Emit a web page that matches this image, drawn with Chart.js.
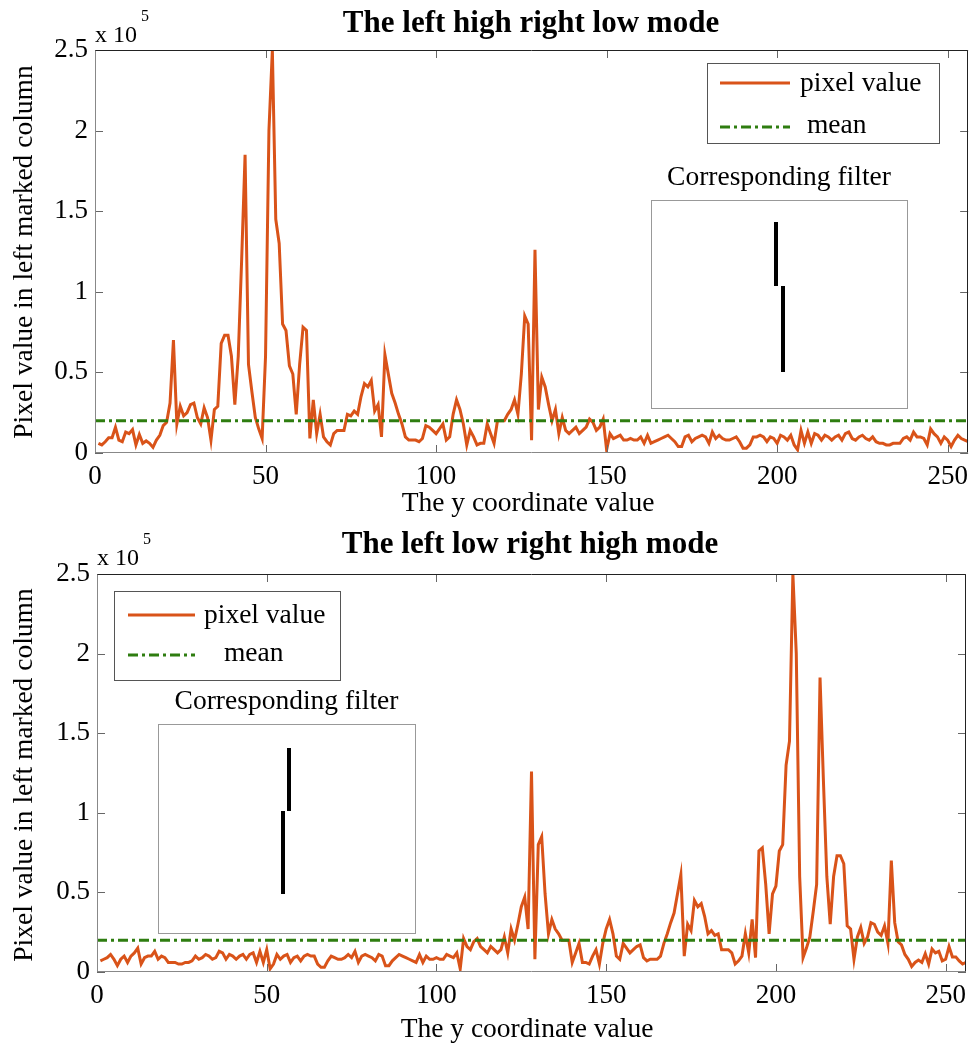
<!DOCTYPE html>
<html>
<head>
<meta charset="utf-8">
<script src="https://cdn.jsdelivr.net/npm/chart.js@4.4.1/dist/chart.umd.min.js"></script>
<style>
  html, body { margin: 0; padding: 0; background: #fff; }
  #wrap { position: relative; width: 976px; height: 1044px; }
  canvas { position: absolute; left: 0; display: block; }
</style>
</head>
<body>
<div id="wrap">
  <canvas id="high-low" width="976" height="520" style="top:0"></canvas>
  <canvas id="low-high" width="976" height="524" style="top:520px"></canvas>
</div>
<script>
// y coordinate of each sample in the marked column
const yCoords = Array.from({ length: 256 }, (_, i) => i + 1);

// pixel value in left marked column, in units of 10^5
const highLowValues = [
  0.06, 0.05, 0.07, 0.095, 0.095, 0.16, 0.08, 0.07, 0.13, 0.12, 0.145, 0.05, 0.115, 0.06, 0.075, 0.06,
  0.035, 0.08, 0.11, 0.17, 0.19, 0.31, 0.70, 0.18, 0.29, 0.23, 0.25, 0.30, 0.31, 0.22, 0.18, 0.28,
  0.22, 0.08, 0.27, 0.29, 0.68, 0.73, 0.73, 0.6, 0.3, 0.6, 1.2, 1.85, 0.55, 0.38, 0.22, 0.15,
  0.09, 0.6, 2.0, 2.5, 1.45, 1.3, 0.8, 0.76, 0.54, 0.49, 0.24, 0.55, 0.78, 0.76, 0.09, 0.33,
  0.12, 0.24, 0.1, 0.07, 0.05, 0.12, 0.14, 0.14, 0.14, 0.24, 0.23, 0.26, 0.24, 0.35, 0.43, 0.41,
  0.45, 0.26, 0.3, 0.1, 0.61, 0.49, 0.37, 0.31, 0.24, 0.18, 0.1, 0.08, 0.08, 0.08, 0.07, 0.09,
  0.17, 0.16, 0.14, 0.12, 0.15, 0.18, 0.08, 0.1, 0.24, 0.33, 0.27, 0.18, 0.05, 0.14, 0.1, 0.05,
  0.06, 0.06, 0.18, 0.12, 0.06, 0.2, 0.2, 0.2, 0.24, 0.27, 0.33, 0.24, 0.49, 0.85, 0.8, 0.08,
  1.26, 0.27, 0.47, 0.41, 0.3, 0.2, 0.27, 0.12, 0.22, 0.14, 0.12, 0.14, 0.16, 0.12, 0.14, 0.16,
  0.21, 0.19, 0.14, 0.16, 0.21, 0.02, 0.12, 0.09, 0.1, 0.11, 0.08, 0.08, 0.09, 0.08, 0.08, 0.1,
  0.06, 0.11, 0.06, 0.07, 0.08, 0.09, 0.1, 0.11, 0.09, 0.07, 0.04, 0.04, 0.1, 0.11, 0.07, 0.09,
  0.1, 0.11, 0.1, 0.06, 0.13, 0.09, 0.11, 0.09, 0.08, 0.08, 0.09, 0.1, 0.07, 0.03, 0.03, 0.05,
  0.1, 0.1, 0.11, 0.1, 0.07, 0.1, 0.09, 0.06, 0.11, 0.1, 0.08, 0.11, 0.05, 0.02, 0.14, 0.06,
  0.13, 0.06, 0.12, 0.11, 0.08, 0.11, 0.1, 0.08, 0.1, 0.11, 0.08, 0.12, 0.13, 0.09, 0.08, 0.1,
  0.11, 0.09, 0.08, 0.1, 0.07, 0.06, 0.06, 0.05, 0.05, 0.06, 0.06, 0.06, 0.09, 0.1, 0.08, 0.13,
  0.1, 0.1, 0.09, 0.05, 0.15, 0.12, 0.1, 0.06, 0.1, 0.08, 0.04, 0.08, 0.11, 0.09, 0.08, 0.07
];

const lowHighValues = [
  0.07, 0.08, 0.09, 0.11, 0.08, 0.04, 0.08, 0.1, 0.06, 0.1, 0.12, 0.15, 0.05, 0.09, 0.1, 0.1,
  0.13, 0.08, 0.1, 0.09, 0.06, 0.06, 0.06, 0.05, 0.05, 0.06, 0.06, 0.07, 0.1, 0.08, 0.09, 0.11,
  0.1, 0.08, 0.09, 0.13, 0.12, 0.08, 0.11, 0.1, 0.08, 0.1, 0.11, 0.08, 0.11, 0.12, 0.06, 0.13,
  0.06, 0.14, 0.02, 0.05, 0.11, 0.08, 0.1, 0.11, 0.06, 0.09, 0.1, 0.07, 0.1, 0.11, 0.1, 0.1,
  0.05, 0.03, 0.03, 0.07, 0.1, 0.09, 0.08, 0.08, 0.09, 0.11, 0.09, 0.13, 0.06, 0.1, 0.11, 0.1,
  0.09, 0.07, 0.11, 0.1, 0.04, 0.04, 0.07, 0.09, 0.11, 0.1, 0.09, 0.08, 0.07, 0.06, 0.11, 0.06,
  0.1, 0.08, 0.08, 0.09, 0.08, 0.08, 0.11, 0.1, 0.09, 0.12, 0.02, 0.21, 0.16, 0.14, 0.19, 0.21,
  0.16, 0.14, 0.12, 0.16, 0.14, 0.12, 0.14, 0.22, 0.12, 0.27, 0.2, 0.3, 0.41, 0.47, 0.27, 1.26,
  0.08, 0.8, 0.85, 0.49, 0.24, 0.33, 0.27, 0.24, 0.2, 0.2, 0.2, 0.06, 0.12, 0.18, 0.06, 0.06,
  0.05, 0.1, 0.14, 0.05, 0.18, 0.27, 0.33, 0.24, 0.1, 0.08, 0.18, 0.15, 0.12, 0.14, 0.16, 0.17,
  0.09, 0.07, 0.08, 0.08, 0.08, 0.1, 0.18, 0.24, 0.31, 0.37, 0.49, 0.61, 0.1, 0.3, 0.26, 0.45,
  0.41, 0.43, 0.35, 0.24, 0.26, 0.23, 0.24, 0.14, 0.14, 0.14, 0.12, 0.05, 0.07, 0.1, 0.24, 0.12,
  0.33, 0.09, 0.76, 0.78, 0.55, 0.24, 0.49, 0.54, 0.76, 0.8, 1.3, 1.45, 2.5, 2.0, 0.6, 0.09,
  0.15, 0.22, 0.38, 0.55, 1.85, 1.2, 0.6, 0.3, 0.6, 0.73, 0.73, 0.68, 0.29, 0.27, 0.08, 0.22,
  0.28, 0.18, 0.22, 0.31, 0.30, 0.25, 0.23, 0.29, 0.18, 0.70, 0.31, 0.19, 0.17, 0.11, 0.08, 0.035,
  0.06, 0.075, 0.06, 0.115, 0.05, 0.145, 0.12, 0.13, 0.07, 0.08, 0.16, 0.095, 0.095, 0.07, 0.05, 0.06
];

const meanHighLow = 0.2;
const meanLowHigh = 0.2;

const xTicks = [0, 50, 100, 150, 200, 250];
const yTicks = [0, 0.5, 1, 1.5, 2, 2.5];

const serif = "'Liberation Serif', 'Times New Roman', serif";
const orange = '#d95319';
const green = '#2e7d10';
const meanDash = [10, 4, 3, 4];

// draws the matlab style box, inward ticks, texts, legend and the filter inset
const matlabDecor = {
  id: 'matlabDecor',
  afterDraw: (chart, args, d) => {
    var ctx = chart.ctx,
    a = chart.chartArea,
    xs = chart.scales.x,
    ys = chart.scales.y;
    ctx.save();

    ctx.lineWidth = 1;
    ctx.strokeStyle = '#666';
    ctx.beginPath();
    xTicks.forEach(v => {
      var px = Math.round(xs.getPixelForValue(v)) + 0.5;
      ctx.moveTo(px, a.bottom); ctx.lineTo(px, a.bottom - 8);
      ctx.moveTo(px, a.top); ctx.lineTo(px, a.top + 8);
    });
    yTicks.forEach(v => {
      var py = Math.round(ys.getPixelForValue(v)) + 0.5;
      ctx.moveTo(a.left, py); ctx.lineTo(a.left + 8, py);
      ctx.moveTo(a.right, py); ctx.lineTo(a.right - 8, py);
    });
    ctx.stroke();

    var l = Math.round(a.left) + 0.5, r = Math.round(a.right) - 0.5;
    var t = Math.round(a.top) + 0.5, b = Math.round(a.bottom) - 0.5;
    ctx.strokeStyle = '#888';
    ctx.beginPath();
    ctx.moveTo(l, t); ctx.lineTo(l, b); ctx.lineTo(r, b);
    ctx.stroke();
    ctx.strokeStyle = '#222';
    ctx.beginPath();
    ctx.moveTo(l, t); ctx.lineTo(r, t); ctx.lineTo(r, b);
    ctx.stroke();

    ctx.fillStyle = '#000';
    ctx.textBaseline = 'alphabetic';
    ctx.textAlign = 'center';
    ctx.font = 'bold 31px ' + serif;
    ctx.fillText(d.title, d.titleX, d.titleY);

    ctx.font = '27.5px ' + serif;
    ctx.fillText('The y coordinate value', d.xLabelX, d.xLabelY);

    ctx.save();
    ctx.translate(d.yLabelX, d.yLabelY);
    ctx.rotate(-Math.PI / 2);
    ctx.textBaseline = 'middle';
    ctx.fillText('Pixel value in left marked column', 0, 0);
    ctx.restore();

    ctx.textAlign = 'left';
    ctx.font = '24px ' + serif;
    ctx.fillText('x 10', a.left, d.expY);
    var w = ctx.measureText('x 10').width;
    ctx.font = '16px ' + serif;
    ctx.fillText('5', a.left + w + 4, d.expY - 21);

    // legend
    var lg = d.legend;
    ctx.fillStyle = '#fff';
    ctx.fillRect(lg.x, lg.y, lg.w, lg.h);
    ctx.strokeStyle = '#555';
    ctx.strokeRect(lg.x + 0.5, lg.y + 0.5, lg.w, lg.h);
    ctx.lineWidth = 3;
    ctx.strokeStyle = orange;
    ctx.beginPath(); ctx.moveTo(lg.x0, lg.row1); ctx.lineTo(lg.x1, lg.row1); ctx.stroke();
    ctx.strokeStyle = green;
    ctx.setLineDash(meanDash);
    ctx.beginPath(); ctx.moveTo(lg.x0, lg.row2); ctx.lineTo(lg.x1, lg.row2); ctx.stroke();
    ctx.setLineDash([]);
    ctx.fillStyle = '#000';
    ctx.font = '27.5px ' + serif;
    ctx.textBaseline = 'middle';
    ctx.fillText(chart.data.datasets[0].label, lg.text1, lg.row1 + 1);
    ctx.fillText(chart.data.datasets[1].label, lg.text2, lg.row2 - 1);

    // inset with the corresponding filter
    var ins = d.inset;
    ctx.textAlign = 'center';
    ctx.textBaseline = 'alphabetic';
    ctx.fillText('Corresponding filter', ins.x + ins.w / 2, ins.y - 15);
    ctx.lineWidth = 1;
    ctx.strokeStyle = '#999';
    ctx.strokeRect(ins.x + 0.5, ins.y + 0.5, ins.w, ins.h);
    ctx.fillStyle = '#000';
    ins.bars.forEach(bar => {
      ctx.fillRect(bar[0] - 2, bar[1], 4, bar[2] - bar[1]);
    });

    ctx.restore();
  }
};

function buildChart(id, values, meanValue, d) {
  const ctx = document.getElementById(id).getContext('2d');
  return new Chart(ctx, {
    type: 'line',
    data: {
      labels: yCoords,
      datasets: [
        {
          label: 'pixel value',
          data: values,
          borderColor: orange,
          borderWidth: 3,
          pointRadius: 0,
          tension: 0,
          order: 1,
        },
        {
          label: ' mean',
          data: [{ x: 0, y: meanValue }, { x: 256, y: meanValue }],
          borderColor: green,
          borderWidth: 3,
          borderDash: meanDash,
          pointRadius: 0,
          order: 0,
        },
      ],
    },
    options: {
      responsive: false,
      animation: false,
      layout: { padding: { left: 0, top: d.padTop, right: d.padRight, bottom: 0 } },
      plugins: {
        legend: { display: false },
        tooltip: { enabled: false },
        matlabDecor: d,
      },
      scales: {
        x: {
          type: 'linear',
          min: 0,
          max: 256,
          grid: { display: false, drawTicks: false },
          border: { display: false },
          afterBuildTicks: s => { s.ticks = xTicks.map(v => ({ value: v })); },
          afterFit: s => { s.height = d.xAxisHeight; },
          ticks: {
            color: '#000', font: { family: serif, size: 27 }, padding: 8,
            maxRotation: 0, autoSkip: false, callback: v => String(v),
          },
        },
        y: {
          min: 0,
          max: 2.5,
          grid: { display: false, drawTicks: false },
          border: { display: false },
          afterBuildTicks: s => { s.ticks = yTicks.map(v => ({ value: v })); },
          afterFit: s => { s.width = d.yAxisWidth; },
          ticks: {
            color: '#000', font: { family: serif, size: 27 }, padding: 7,
            autoSkip: false, callback: v => String(v),
          },
        },
      },
    },
    plugins: [matlabDecor],
  });
}

window.addEventListener('load', () => {
  buildChart('high-low', highLowValues, meanHighLow, {
    title: 'The left high right low mode',
    titleX: 531, titleY: 32,
    xLabelX: 528, xLabelY: 511,
    yLabelX: 25, yLabelY: 252,
    expY: 42,
    padTop: 50, padRight: 3, xAxisHeight: 67, yAxisWidth: 95,
    legend: { x: 707, y: 63, w: 232, h: 80, x0: 720, x1: 790, row1: 83, row2: 127, text1: 800, text2: 800 },
    inset: { x: 651, y: 200, w: 256, h: 208, bars: [[776, 222, 286], [783, 286, 372]] },
  });
  buildChart('low-high', lowHighValues, meanLowHigh, {
    title: 'The left low right high mode',
    titleX: 530, titleY: 33,
    xLabelX: 527, xLabelY: 517,
    yLabelX: 25, yLabelY: 255,
    expY: 45,
    padTop: 54, padRight: 10, xAxisHeight: 72, yAxisWidth: 97,
    legend: { x: 114, y: 71, w: 226, h: 89, x0: 128, x1: 195, row1: 95, row2: 135, text1: 204, text2: 217 },
    inset: { x: 158, y: 204, w: 257, h: 209, bars: [[289, 228, 291], [283, 291, 374]] },
  });
});
</script>
</body>
</html>
